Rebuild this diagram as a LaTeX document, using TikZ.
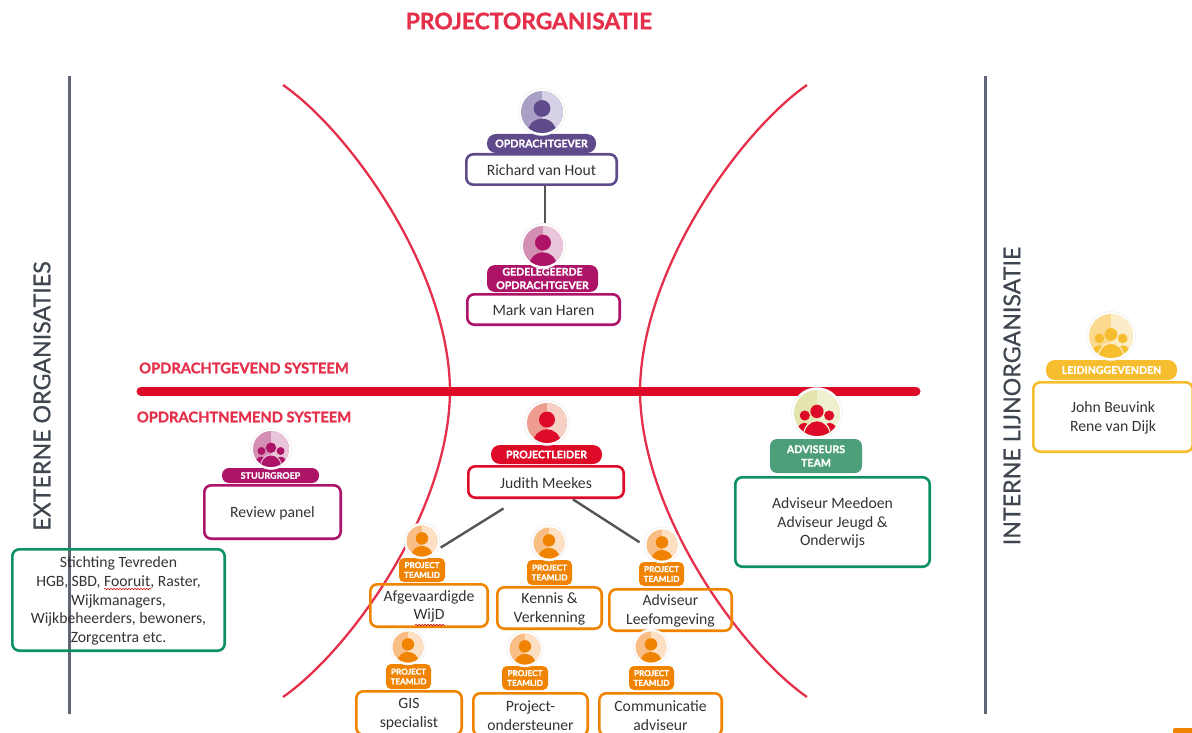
\documentclass[tikz,border=0pt]{standalone}
\usepackage{fontspec}
\setmainfont{Carlito}
\newfontfamily\headfont[BoldFeatures={FakeBold=1.2}]{Lato}
\newfontfamily\sidefont[FakeBold=0.6]{Lato}
\usetikzlibrary{decorations.pathmorphing}
\definecolor{purD}{HTML}{5F4B8B}\definecolor{purM}{HTML}{AAA0C6}\definecolor{purL}{HTML}{D6D1E6}
\definecolor{magD}{HTML}{AD1468}\definecolor{magM}{HTML}{D28FB3}\definecolor{magL}{HTML}{E8C5D9}
\definecolor{redD}{HTML}{DD0A28}\definecolor{redM}{HTML}{EE9C8E}\definecolor{redL}{HTML}{F6CFC5}
\definecolor{oraD}{HTML}{F08300}\definecolor{oraM}{HTML}{F9BE85}\definecolor{oraL}{HTML}{FDDFC3}
\definecolor{yelD}{HTML}{F6BE2E}\definecolor{yelM}{HTML}{FBD98F}\definecolor{yelL}{HTML}{FDECC8}
\definecolor{advM}{HTML}{E3E4AE}\definecolor{advL}{HTML}{EEF0D0}
\definecolor{grnP}{HTML}{4C9F78}\definecolor{grnB}{HTML}{0E9160}
\definecolor{arcR}{HTML}{E5304C}\definecolor{lineG}{HTML}{5F6575}\definecolor{linkG}{HTML}{555555}
\definecolor{txtG}{HTML}{333333}\definecolor{headG}{HTML}{3F4650}
\tikzset{
  x=1pt,y=-1pt,
  infobox/.style={draw=#1,line width=2.6pt,rounded corners=7pt,inner sep=0pt},
  infotext/.style={inner sep=0pt,align=center,text=txtG,font=\fontsize{15.7}{18.7}\selectfont},
  pillbox/.style={fill=#1,inner sep=0pt,align=center,text=white,
    font=\headfont\bfseries\fontsize{10.6}{13.5}\selectfont},
  teamlabel/.style={pillbox=oraD,rounded corners=5pt,font=\headfont\bfseries\fontsize{8.2}{9.8}\selectfont},
  iconbase/.style={circle,fill=white,draw=black!8,line width=0.5pt,inner sep=0pt,minimum size=#1},
  systemlabel/.style={text=arcR,font=\headfont\bfseries\fontsize{14.7}{16}\selectfont,inner sep=0pt},
  sidelabel/.style={text=headG,rotate=90,font=\sidefont\fontsize{23.2}{26}\selectfont,inner sep=0pt},
  linkline/.style={draw=linkG,line width=2.4pt},
  arcline/.style={draw=arcR,line width=2.3pt},
  speller/.style={draw=red!80!black,line width=0.5pt,decorate,decoration={snake,amplitude=0.7pt,segment length=3pt}},
}
% box: name x0 y0 x1 y1 colour text
\newcommand{\ibox}[7]{%
  \pgfmathsetmacro{\bw}{#4-#2-2.6}\pgfmathsetmacro{\bh}{#5-#3-2.6}%
  \pgfmathsetmacro{\cx}{(#2+#4)/2}\pgfmathsetmacro{\cy}{(#3+#5)/2}%
  \node[infobox=#6,minimum width=\bw pt,minimum height=\bh pt] (#1) at (\cx,\cy) {};%
  \node[infotext,yshift=-1pt] (#1-text) at (\cx,\cy) {#7};}
% pill: name x0 y0 x1 y1 colour radius text
\newcommand{\pillnode}[8]{%
  \pgfmathsetmacro{\bw}{#4-#2}\pgfmathsetmacro{\bh}{#5-#3}%
  \pgfmathsetmacro{\cx}{(#2+#4)/2}\pgfmathsetmacro{\cy}{(#3+#5)/2}%
  \node[pillbox=#6,rounded corners=#7pt,minimum width=\bw pt,minimum height=\bh pt] (#1) at (\cx,\cy) {#8};}
\newcommand{\teampill}[6]{%
  \pgfmathsetmacro{\bw}{#4-#2}\pgfmathsetmacro{\bh}{#5-#3}%
  \pgfmathsetmacro{\cx}{(#2+#4)/2}\pgfmathsetmacro{\cy}{(#3+#5)/2}%
  \node[teamlabel,minimum width=\bw pt,minimum height=\bh pt] (#1) at (\cx,\cy) {#6};}
% icon background: x y r mid light
\newcommand{\iconback}[5]{%
  \fill[#4] (#1,#2) circle[radius=#3];%
  \begin{scope}\clip (#1,#2) circle[radius=#3];\fill[#5] (#1,{#2-#3}) rectangle ({#1+#3},{#2+#3});\end{scope}}
% person icon: name x y r mid light dark
\newcommand{\personicon}[7]{%
  \pgfmathsetmacro{\dd}{2*#4+5}%
  \node[iconbase=\dd pt] (#1) at (#2,#3) {};%
  \iconback{#2}{#3}{#4}{#5}{#6}%
  \begin{scope}\clip (#2,#3) circle[radius=#4];%
    \fill[#7] (#2,{#3-0.17*#4}) circle[radius=0.40*#4];%
    \fill[#7] (#2,{#3+0.95*#4}) ellipse[x radius=0.68*#4,y radius=0.63*#4];%
  \end{scope}}
% group icon: name x y r mid light dark
\newcommand{\groupicon}[7]{%
  \pgfmathsetmacro{\dd}{2*#4+5}%
  \node[iconbase=\dd pt] (#1) at (#2,#3) {};%
  \iconback{#2}{#3}{#4}{#5}{#6}%
  \begin{scope}\clip (#2,#3) circle[radius=#4];%
    \fill[#7] ({#2-0.53*#4},{#3+0.11*#4}) circle[radius=0.22*#4];%
    \fill[#7] ({#2+0.53*#4},{#3+0.11*#4}) circle[radius=0.22*#4];%
    \fill[#7] ({#2-0.55*#4},{#3+0.93*#4}) ellipse[x radius=0.35*#4,y radius=0.5*#4];%
    \fill[#7] ({#2+0.55*#4},{#3+0.93*#4}) ellipse[x radius=0.35*#4,y radius=0.5*#4];%
    \fill[#6] (#2,{#3+1.02*#4}) ellipse[x radius=0.62*#4,y radius=0.73*#4];%
    \fill[#7] (#2,{#3-0.07*#4}) circle[radius=0.29*#4];%
    \fill[#7] (#2,{#3+1.02*#4}) ellipse[x radius=0.56*#4,y radius=0.66*#4];%
  \end{scope}}
\begin{document}
\begin{tikzpicture}
\useasboundingbox (0,0) rectangle (1192,733);
% title
\node[text=arcR,font=\headfont\bfseries\fontsize{22.8}{24}\selectfont,inner sep=0pt] (title) at (529,21) {PROJECTORGANISATIE};
% organisation arcs
\draw[arcline] (283,85) .. controls (348,130) and (449,268) .. (450,391) .. controls (449,514) and (348,652) .. (283,697);
\draw[arcline] (807,85) .. controls (742,130) and (641,268) .. (640,391) .. controls (641,514) and (742,652) .. (807,697);
% system bar
\draw[redD,line width=9pt,line cap=round] (141,391) -- (916,391);
% side lines
\draw[lineG,line width=3pt] (69,76) -- (69,714);
\draw[lineG,line width=3pt] (985,76) -- (985,714);
\node[sidelabel] (extern) at (42,396) {EXTERNE ORGANISATIES};
\node[sidelabel] (intern) at (1012,396) {INTERNE LIJNORGANISATIE};
\node[systemlabel] (sysA) at (244,368) {OPDRACHTGEVEND SYSTEEM};
\node[systemlabel] (sysB) at (244,417) {OPDRACHTNEMEND SYSTEEM};
% opdrachtgever
\ibox{richard}{465}{153}{618}{186}{purD}{Richard van Hout}
\pillnode{pillO}{487}{134}{596}{153}{purD}{9}{OPDRACHTGEVER}
\personicon{iconO}{542}{112}{21}{purM}{purL}{purD}
% gedelegeerde
\ibox{mark}{466}{293}{621}{326}{magD}{Mark van Haren}
\pillnode{pillG}{487}{265}{598}{292}{magD}{8}{GEDELEGEERDE\\OPDRACHTGEVER}
\personicon{iconG}{543}{246}{20}{magM}{magL}{magD}
\draw[linkline] ([xshift=2pt]iconG.north |- richard.south) -- ([xshift=2pt]iconG.north);
% projectleider
\ibox{judith}{467}{465}{625}{499}{redD}{Judith Meekes}
\pillnode{pillP}{491}{445}{602}{464}{redD}{9}{PROJECTLEIDER}
\personicon{iconP}{547}{423}{20}{redM}{redL}{redD}
% stuurgroep
\ibox{review}{203}{484}{342}{540}{magD}{Review panel}
\pillnode{pillS}{222}{468}{319}{483}{magD}{7}{\fontsize{9}{10}\selectfont STUURGROEP}
\groupicon{iconS}{271}{449}{18}{magM}{magL}{magD}
% externe box
\ibox{stichting}{11}{548}{226}{652}{grnB}{Stichting Tevreden\\HGB, SBD, Fooruit, Raster,\\Wijkmanagers,\\Wijkbeheerders, bewoners,\\Zorgcentra etc.}
\draw[speller] (104,589) -- (151,589);
% adviseurs
\ibox{advies}{734}{476}{931}{568}{grnB}{Adviseur Meedoen\\Adviseur Jeugd \&\\Onderwijs}
\pillnode{pillA}{770}{439}{862}{473}{grnP}{7}{ADVISEURS\\TEAM}
\groupicon{iconA}{817}{413}{23}{advM}{advL}{redD}
% leidinggevenden
\ibox{leiding}{1032}{381}{1194}{453}{yelD}{John Beuvink\\Rene van Dijk}
\pillnode{pillL}{1046}{360}{1177}{380}{yelD}{9}{LEIDINGGEVENDEN}
\groupicon{iconL}{1111}{336}{22}{yelM}{yelL}{yelD}
% team
\ibox{boxA}{369}{583}{489}{628}{oraD}{Afgevaardigde\\WijD}
\teampill{pillTA}{399}{558}{445}{582}{PROJECT\\TEAMLID}
\personicon{iconTA}{422}{541}{15.5}{oraM}{oraL}{oraD}
\draw[speller] (415,625) -- (445,625);
\ibox{boxB}{496}{586}{603}{630}{oraD}{Kennis \&\\Verkenning}
\teampill{pillTB}{527}{560}{572}{585}{PROJECT\\TEAMLID}
\personicon{iconTB}{549}{543}{15.5}{oraM}{oraL}{oraD}
\ibox{boxC}{608}{588}{733}{632}{oraD}{Adviseur\\Leefomgeving}
\teampill{pillTC}{639}{562}{684}{586}{PROJECT\\TEAMLID}
\personicon{iconTC}{662}{545}{15.5}{oraM}{oraL}{oraD}
\ibox{boxD}{355}{690}{463}{736}{oraD}{GIS\\specialist}
\teampill{pillTD}{386}{664}{431}{689}{PROJECT\\TEAMLID}
\personicon{iconTD}{408}{647}{15.5}{oraM}{oraL}{oraD}
\ibox{boxE}{472}{692}{589}{737}{oraD}{Project-\\ondersteuner}
\teampill{pillTE}{502}{666}{548}{690}{PROJECT\\TEAMLID}
\personicon{iconTE}{525}{649}{15.5}{oraM}{oraL}{oraD}
\ibox{boxF}{598}{692}{723}{737}{oraD}{Communicatie\\adviseur}
\teampill{pillTF}{629}{666}{674}{690}{PROJECT\\TEAMLID}
\personicon{iconTF}{651}{647}{15.5}{oraM}{oraL}{oraD}
% links
\draw[linkline,shorten <=50pt,shorten >=22pt] (judith.center) -- (iconTA.south);
\draw[linkline,shorten <=32pt,shorten >=5pt] (judith.center) -- (iconTC.west);
% clipped shape in the corner
\fill[oraD,rounded corners=2pt] (1173,738) -- (1173,728) -- (1197,728) -- (1197,738) -- cycle;
\end{tikzpicture}
\end{document}
